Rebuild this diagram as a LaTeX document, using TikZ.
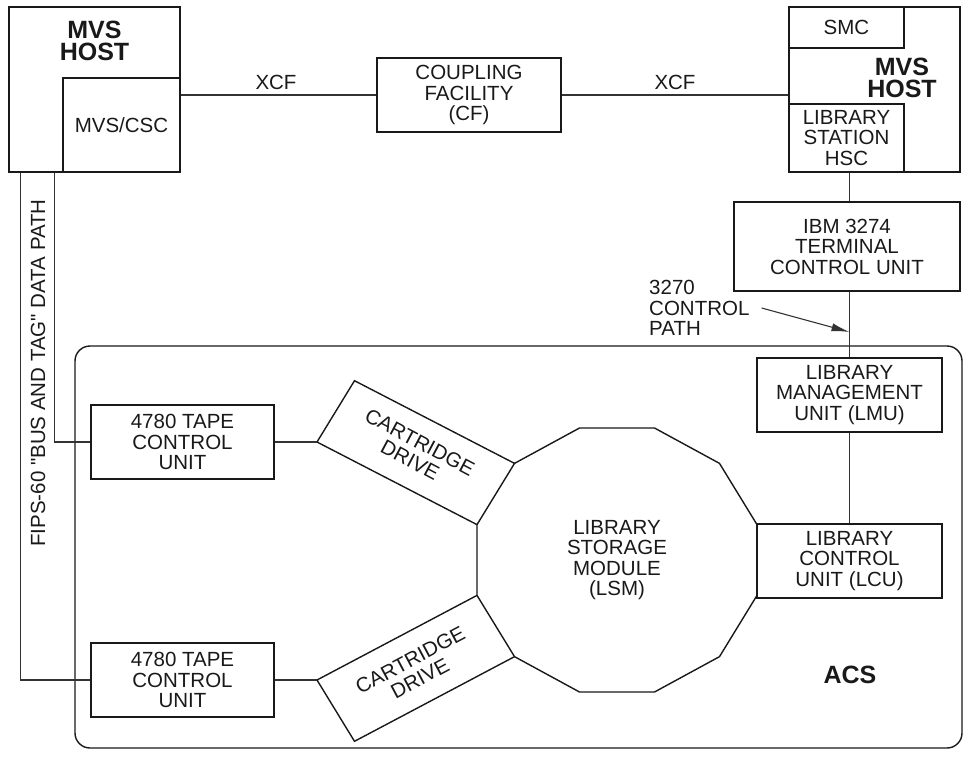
\documentclass[tikz,border=0pt]{standalone}
\usepackage{fontspec}
\setmainfont{Liberation Sans}[Ligatures=TeXOff]
\usetikzlibrary{arrows.meta}
\newcommand\labsize{\fontsize{20.5}{20.5}\selectfont}
\newcommand\boldsize{\fontsize{25}{22}\selectfont\bfseries}
\begin{document}
\begin{tikzpicture}[x=1pt,y=-1pt,
  box/.style={draw=black!90, line width=1.4pt, inner sep=0pt, rectangle},
  outline/.style={draw=black!90, line width=1.4pt, line join=miter},
  conn/.style={draw=black!80, line width=1.1pt},
  lab/.style={inner sep=0pt, align=center, font=\labsize, text=black!90},
  big/.style={inner sep=0pt, align=center, font=\boldsize, text=black!90}]
\useasboundingbox (0,0) rectangle (966,761);

% ACS enclosure
\node[box, rounded corners=15pt, minimum width=887pt, minimum height=402pt] (acsbox) at (518.5,547) {};

% left host
\node[box, minimum width=171pt, minimum height=165pt] (hostL) at (94.5,89.5) {};
\node[box, lab, minimum width=117pt, minimum height=94pt] (csc) at (121.5,125) {MVS/CSC};
\node[big] (hostLt) at (94.5,41) {MVS\\HOST};

% right host
\node[box, minimum width=171pt, minimum height=165pt] (hostR) at (874.5,89.5) {};
\node[box, lab, minimum width=115pt, minimum height=41pt] (smc) at (846.5,27.5) {SMC};
\node[box, lab, minimum width=115pt, minimum height=68pt] (hsc) at (846.5,138) {LIBRARY\\STATION\\HSC};
\node[big] (hostRt) at (902,78) {MVS\\HOST};

% coupling facility
\node[box, lab, minimum width=184pt, minimum height=74pt] (cf) at (469,95) {COUPLING\\FACILITY\\(CF)};
\node[lab] (xcf1) at (276,82.5) {XCF};
\node[lab] (xcf2) at (675,82.5) {XCF};

% right chain
\node[box, lab, minimum width=226pt, minimum height=89pt] (ibm) at (847,246.5) {IBM 3274\\TERMINAL\\CONTROL UNIT};
\node[lab, anchor=west, align=left] (cp) at (649,308) {3270\\CONTROL\\PATH};
\node[box, lab, minimum width=185pt, minimum height=74pt] (lmu) at (849.5,395) {LIBRARY\\MANAGEMENT\\UNIT (LMU)};
\node[box, lab, minimum width=185pt, minimum height=74pt] (lcu) at (849.5,561) {LIBRARY\\CONTROL\\UNIT (LCU)};
\node[big] (acs) at (850,675) {ACS};

% tape control units
\node[box, lab, minimum width=183pt, minimum height=74pt] (tape1) at (182.5,442) {4780 TAPE\\CONTROL\\UNIT};
\node[box, lab, minimum width=183pt, minimum height=74pt] (tape2) at (182.5,680) {4780 TAPE\\CONTROL\\UNIT};

% FIPS label
\node[lab, rotate=90] (fips) at (38,373) {FIPS-60 "BUS AND TAG" DATA PATH};

% library storage module (dodecagon)
\coordinate (v0) at (757,524.63);
\coordinate (v1) at (719.49,463.37);
\coordinate (v2) at (654.51,428);
\coordinate (v3) at (579.49,428);
\coordinate (v4) at (514.51,463.37);
\coordinate (v5) at (477,524.63);
\coordinate (v6) at (477,595.37);
\coordinate (v7) at (514.51,656.63);
\coordinate (v8) at (579.49,692);
\coordinate (v9) at (654.51,692);
\coordinate (v10) at (719.49,656.63);
\coordinate (v11) at (757,595.37);
\draw[outline] (v0) -- (v1) -- (v2) -- (v3) -- (v4) -- (v5) -- (v6) -- (v7) -- (v8) -- (v9) -- (v10) -- (v11) -- cycle;
\node[lab] (lsm) at (617,560) {LIBRARY\\STORAGE\\MODULE\\(LSM)};

% cartridge drives
\coordinate (d1) at (317,442);
\coordinate (a1) at (354.5,380.7);
\coordinate (d2) at (317,680);
\coordinate (a2) at (354.5,741.3);
\draw[outline] (v4) -- (a1) -- (d1) -- (v5);
\draw[outline] (v6) -- (d2) -- (a2) -- (v7);
\node[lab, rotate=-28] (cd1) at (415,451) {CARTRIDGE\\DRIVE};
\node[lab, rotate=28] (cd2) at (415,669) {CARTRIDGE\\DRIVE};

% connectors
\draw[conn] (hostL.east |- cf.west) -- (cf.west);
\draw[conn] (cf.east) -- (hostR.west |- cf.east);
\draw[conn] (hsc.south -| lmu.center) -- (ibm.north -| lmu.center);
\draw[conn] (ibm.south -| lmu.center) -- (lmu.north);
\draw[conn] (lmu.south) -- (lcu.north);
\coordinate (tip) at (849.5,332);
\draw[conn, -{Latex[length=18pt,width=8pt]}] ([xshift=12pt]cp.east) -- (tip);
\draw[conn] ([xshift=12pt]hostL.south west) |- (tape2.west);
\draw[conn] ([xshift=46pt]hostL.south west) |- (tape1.west);
\draw[conn] (tape1.east) -- (d1);
\draw[conn] (tape2.east) -- (d2);
\end{tikzpicture}
\end{document}
